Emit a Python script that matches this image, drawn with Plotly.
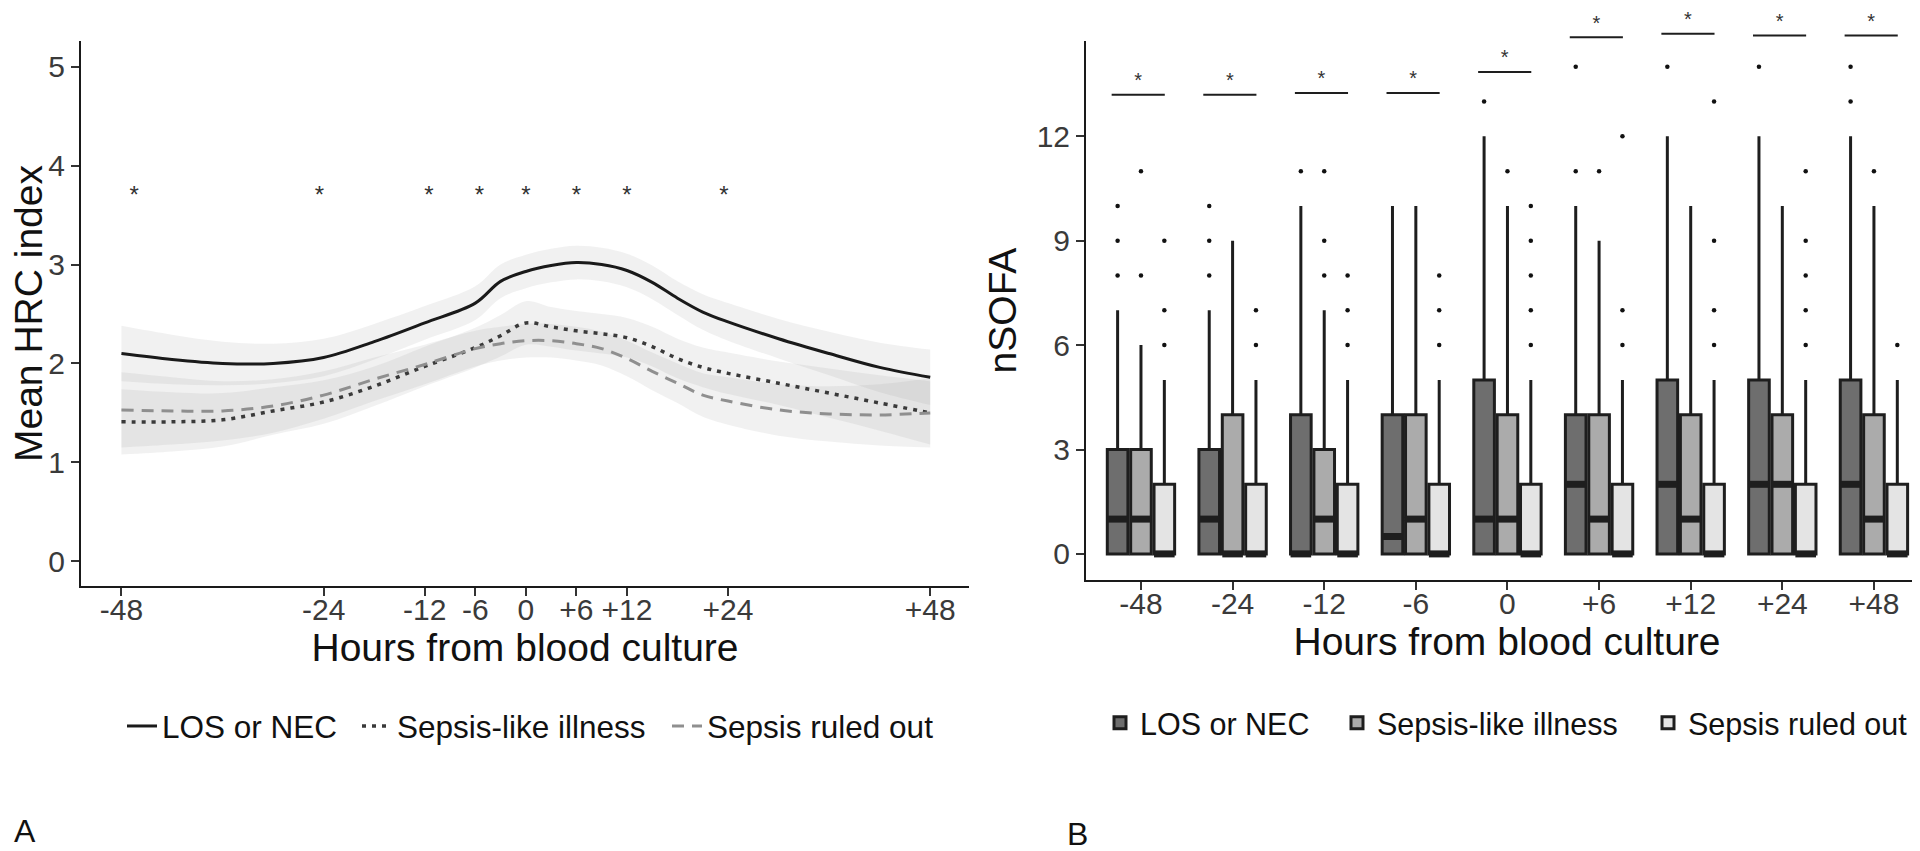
import plotly.graph_objects as go

# ---------------- Panel A data ----------------
hours = [-48, -42, -36, -30, -24, -18, -12, -6, -3, 0, 3, 6, 9, 12, 15, 18, 21, 24, 30, 36, 42, 48]
hrc_los = [2.10, 2.04, 2.00, 2.00, 2.06, 2.22, 2.41, 2.61, 2.83, 2.93, 2.99, 3.02, 3.00, 2.94, 2.82, 2.66, 2.52, 2.42, 2.25, 2.10, 1.96, 1.86]
hrc_sli = [1.41, 1.41, 1.43, 1.52, 1.61, 1.77, 1.97, 2.16, 2.28, 2.41, 2.37, 2.33, 2.30, 2.26, 2.17, 2.05, 1.96, 1.90, 1.80, 1.70, 1.60, 1.50]
hrc_sro = [1.53, 1.52, 1.52, 1.57, 1.68, 1.84, 1.99, 2.15, 2.20, 2.23, 2.23, 2.20, 2.15, 2.05, 1.92, 1.80, 1.68, 1.62, 1.53, 1.49, 1.48, 1.50]
ci_los = [0.28, 0.25, 0.22, 0.20, 0.19, 0.18, 0.17, 0.17, 0.17, 0.17, 0.17, 0.17, 0.17, 0.17, 0.17, 0.17, 0.18, 0.19, 0.20, 0.22, 0.25, 0.28]
ci_sli = [0.33, 0.30, 0.27, 0.24, 0.22, 0.20, 0.20, 0.20, 0.21, 0.22, 0.20, 0.20, 0.20, 0.20, 0.20, 0.20, 0.20, 0.21, 0.22, 0.25, 0.28, 0.32]
ci_sro = [0.38, 0.34, 0.30, 0.27, 0.24, 0.22, 0.20, 0.18, 0.17, 0.17, 0.17, 0.17, 0.17, 0.18, 0.19, 0.20, 0.22, 0.24, 0.26, 0.28, 0.31, 0.35]

star_hours = [-46.5, -24.5, -11.5, -5.5, 0, 6, 12, 23.5]
star_level = 3.68

hour_ticks = [-48, -24, -12, -6, 0, 6, 12, 24, 48]
hour_labels = ['-48', '-24', '-12', '-6', '0', '+6', '+12', '+24', '+48']
groups = ['LOS or NEC', 'Sepsis-like illness', 'Sepsis ruled out']

# ---------------- Panel B data (nSOFA box statistics) ----------------
time_points = hour_labels
los_q1 = [0, 0, 0, 0, 0, 0, 0, 0, 0]
los_med = [1, 1, 0, 0.5, 1, 2, 2, 2, 2]
los_q3 = [3, 3, 4, 4, 5, 4, 5, 5, 5]
los_hi = [7, 7, 10, 10, 12, 10, 12, 12, 12]
los_out = [[8, 9, 10], [8, 9, 10], [11], [], [13], [11, 14], [14], [14], [13, 14]]

sli_q1 = [0, 0, 0, 0, 0, 0, 0, 0, 0]
sli_med = [1, 0, 1, 1, 1, 1, 1, 2, 1]
sli_q3 = [3, 4, 3, 4, 4, 4, 4, 4, 4]
sli_hi = [6, 9, 7, 10, 10, 9, 10, 10, 10]
sli_out = [[8, 11], [], [8, 9, 11], [], [11], [11], [], [], [11]]

sro_q1 = [0, 0, 0, 0, 0, 0, 0, 0, 0]
sro_med = [0, 0, 0, 0, 0, 0, 0, 0, 0]
sro_q3 = [2, 2, 2, 2, 2, 2, 2, 2, 2]
sro_hi = [5, 5, 5, 5, 5, 5, 5, 5, 5]
sro_out = [[6, 7, 9], [6, 7], [6, 7, 8], [6, 7, 8], [6, 7, 8, 9, 10], [6, 7, 12], [6, 7, 9, 13], [6, 7, 8, 9, 11], [6]]

sig_level = [13.2, 13.2, 13.25, 13.25, 13.85, 14.85, 14.95, 14.9, 14.9]

# ---------------- styles ----------------
FONT = "Liberation Sans, Arial, sans-serif"
line_styles = [dict(color='#1a1a1a', width=3, dash='solid'),
               dict(color='#3a3a3a', width=3.5, dash='4px,6px'),
               dict(color='#8f8f8f', width=3, dash='12px,8px')]
box_fills = ['#6e6e6e', '#ababab', '#e4e4e4']
box_offsets = [-0.255, 0.0, 0.255]
box_w = 0.225
edge = '#1e1e1e'
legend_widths_a = [190, 265, None]
legend_widths_b = [192, 266, None]

fig = go.Figure()

# ---- Panel A: CI bands ----
for mean, hw in [(hrc_los, ci_los), (hrc_sli, ci_sli), (hrc_sro, ci_sro)]:
    upper = [m + h for m, h in zip(mean, hw)]
    lower = [m - h for m, h in zip(mean, hw)]
    fig.add_trace(go.Scatter(x=hours, y=upper, mode='lines', line=dict(width=0, shape='spline'),
                             showlegend=False, hoverinfo='skip', xaxis='x', yaxis='y'))
    fig.add_trace(go.Scatter(x=hours, y=lower, mode='lines', line=dict(width=0, shape='spline'),
                             fill='tonexty', fillcolor='rgba(150,150,150,0.13)',
                             showlegend=False, hoverinfo='skip', xaxis='x', yaxis='y'))

# ---- Panel A: lines ----
for name, mean, st, lw in zip(groups, [hrc_los, hrc_sli, hrc_sro], line_styles, legend_widths_a):
    fig.add_trace(go.Scatter(x=hours, y=mean, mode='lines', name=name, legendwidth=lw,
                             line=dict(color=st['color'], width=st['width'], dash=st['dash'], shape='spline'),
                             xaxis='x', yaxis='y', legend='legend'))

# ---- Panel A: significance asterisks ----
fig.add_trace(go.Scatter(x=star_hours, y=[star_level] * len(star_hours), mode='text', text=['*'] * len(star_hours),
                         textfont=dict(size=24, color='#333333', family=FONT), showlegend=False,
                         hoverinfo='skip', xaxis='x', yaxis='y'))

# ---- Panel B: boxes ----
box_sets = [(los_q1, los_med, los_q3, los_hi, los_out),
            (sli_q1, sli_med, sli_q3, sli_hi, sli_out),
            (sro_q1, sro_med, sro_q3, sro_hi, sro_out)]
for gi, (name, (q1, med, q3, hi, out)) in enumerate(zip(groups, box_sets)):
    xs = [i + box_offsets[gi] for i in range(len(time_points))]
    fig.add_trace(go.Box(x=xs, q1=q1, median=med, q3=q3, lowerfence=q1, upperfence=hi,
                         orientation='v', width=box_w, fillcolor=box_fills[gi], line=dict(color=edge, width=3),
                         whiskerwidth=0, boxpoints=False, name=name, hoverinfo='skip',
                         legendwidth=legend_widths_b[gi],
                         xaxis='x2', yaxis='y2', legend='legend2'))
    # thicker median bars (ggplot style)
    mx, my = [], []
    for x0, m in zip(xs, med):
        mx += [x0 - box_w / 2, x0 + box_w / 2, None]
        my += [m, m, None]
    fig.add_trace(go.Scatter(x=mx, y=my, mode='lines', line=dict(color=edge, width=7),
                             showlegend=False, hoverinfo='skip', xaxis='x2', yaxis='y2'))
    # outliers
    ox, oy = [], []
    for x0, vals in zip(xs, out):
        for v in vals:
            ox.append(x0)
            oy.append(v)
    fig.add_trace(go.Scatter(x=ox, y=oy, mode='markers', marker=dict(color='#111111', size=4.5),
                             showlegend=False, hoverinfo='skip', xaxis='x2', yaxis='y2'))

# ---- Panel B: significance bars (on an invisible taller axis so they are not clipped) ----
sx, sy = [], []
for i, lv in enumerate(sig_level):
    sx += [i - 0.32, i + 0.26, None]
    sy += [lv, lv, None]
fig.add_trace(go.Scatter(x=sx, y=sy, mode='lines', line=dict(color='#1e1e1e', width=2),
                         showlegend=False, hoverinfo='skip', xaxis='x2', yaxis='y3'))
fig.add_trace(go.Scatter(x=[i - 0.03 for i in range(len(sig_level))], y=[lv + 0.36 for lv in sig_level],
                         mode='text', text=['*'] * len(sig_level),
                         textfont=dict(size=20, color='#333333', family=FONT), cliponaxis=False,
                         showlegend=False, hoverinfo='skip', xaxis='x2', yaxis='y3'))

tickfont = dict(size=30, color='#3a3a3a', family=FONT)
titlefont = dict(size=39, color='#111111', family=FONT)
axis_common = dict(showgrid=False, zeroline=False, showline=True, linecolor='#1a1a1a', linewidth=2,
                   ticks='outside', ticklen=8, tickwidth=1.5, tickcolor='#333333', tickfont=tickfont,
                   automargin=False)

fig.update_layout(
    width=1920, height=851,
    margin=dict(l=0, r=0, t=0, b=0, autoexpand=False),
    paper_bgcolor='white', plot_bgcolor='rgba(0,0,0,0)',
    font=dict(family=FONT),
    showlegend=True,
    xaxis=dict(domain=[73 / 1920, 961 / 1920], range=[-52.8, 52.6], tickvals=hour_ticks, ticktext=hour_labels,
               ticklabelstandoff=-12,
               title=dict(text='Hours from blood culture', font=titlefont, standoff=4), anchor='y', **axis_common),
    yaxis=dict(domain=[273 / 851, 818 / 851], range=[-0.25, 5.26], tickvals=[0, 1, 2, 3, 4, 5],
               anchor='x', **axis_common),
    xaxis2=dict(domain=[1078 / 1920, 1.0], range=[-0.6, 8.59], tickvals=list(range(9)), ticktext=time_points,
                ticklabelstandoff=-12,
                title=dict(text='Hours from blood culture', font=titlefont, standoff=2), anchor='y2', **axis_common),
    yaxis2=dict(domain=[279 / 851, 818 / 851], range=[-0.75, 14.74], tickvals=[0, 3, 6, 9, 12],
                title=dict(text='nSOFA', font=titlefont, standoff=8), anchor='x2', **axis_common),
    yaxis3=dict(domain=[279 / 851, 1.0], range=[-0.75, 15.69], visible=False, anchor='x2'),
    legend=dict(orientation='h', x=114 / 1920, xanchor='left', y=(851 - 718) / 851, yanchor='middle',
                font=dict(size=31.5, color='#111111', family=FONT), bgcolor='rgba(0,0,0,0)',
                itemwidth=30, tracegroupgap=0, traceorder='normal'),
    legend2=dict(orientation='h', x=1092 / 1920, xanchor='left', y=(851 - 715) / 851, yanchor='middle',
                 font=dict(size=30.5, color='#111111', family=FONT), bgcolor='rgba(0,0,0,0)',
                 itemwidth=30, tracegroupgap=0, traceorder='normal'),
    annotations=[
        dict(text='Mean HRC index', textangle=-90, x=20 / 1920, y=(851 - 306) / 851, xref='paper', yref='paper',
             xanchor='center', yanchor='middle', showarrow=False, font=titlefont),
        dict(text='A', x=4 / 1920, y=(851 - 823) / 851, xref='paper', yref='paper', xanchor='left',
             yanchor='middle', showarrow=False, font=dict(size=32, color='#111111', family=FONT)),
        dict(text='B', x=1057 / 1920, y=(851 - 826) / 851, xref='paper', yref='paper', xanchor='left',
             yanchor='middle', showarrow=False, font=dict(size=32, color='#111111', family=FONT)),
    ],
)

fig.write_html("out.html")
